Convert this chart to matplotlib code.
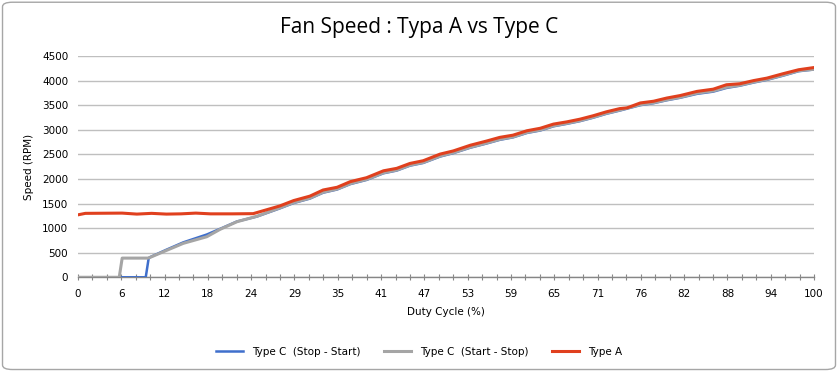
import matplotlib
matplotlib.use("Agg")
import matplotlib.pyplot as plt
from matplotlib.patches import FancyBboxPatch
import numpy as np

# ---- data (duty cycle %, RPM) ----
type_a_x = [0, 1, 6, 8, 10, 12, 14, 16, 18, 21, 23.8, 27.4, 29.3, 31.5, 33.3, 35.2, 37.0, 39.2,
            41.5, 43.3, 45.1, 46.9, 49.2, 51.0, 53.3, 55.5, 57.3, 59.1, 61.0, 62.8, 64.6, 66.4,
            68.2, 70.0, 71.8, 73.6, 74.6, 76.4, 78.2, 80.0, 81.8, 84.1, 86.3, 88.1, 89.9, 91.8,
            93.6, 95.8, 97.9, 100]
type_a_rpm = [1270, 1300, 1305, 1285, 1300, 1285, 1290, 1305, 1290, 1290, 1294, 1450, 1560, 1650,
              1775, 1830, 1945, 2025, 2165, 2215, 2315, 2370, 2505, 2570, 2685, 2770, 2845, 2890,
              2980, 3030, 3115, 3160, 3215, 3285, 3365, 3430, 3445, 3545, 3580, 3645, 3695, 3780,
              3825, 3915, 3935, 4000, 4050, 4140, 4220, 4265]

start_stop_x = [0, 5.6, 6.0, 9.5, 9.8, 12.0, 14.3, 17.5, 19.3, 21.6, 24.3, 27.4, 29.3, 31.5, 33.3,
                35.2, 37.0, 39.2, 41.5, 43.3, 45.1, 46.9, 49.2, 51.0, 53.3, 55.5, 57.3, 59.1, 61.0,
                62.8, 64.6, 66.4, 68.2, 70.0, 71.8, 73.6, 76.4, 78.2, 80.0, 81.8, 84.1, 86.3, 88.1,
                89.9, 91.8, 93.6, 95.8, 97.9, 100]
start_stop_rpm = [0, 0, 390, 390, 405, 545, 690, 825, 975, 1130, 1240, 1410, 1520, 1610, 1730, 1795,
                  1905, 1990, 2125, 2180, 2280, 2335, 2465, 2535, 2645, 2730, 2805, 2855, 2945, 2995,
                  3080, 3130, 3185, 3255, 3335, 3400, 3510, 3550, 3610, 3660, 3745, 3790, 3865, 3905,
                  3970, 4025, 4110, 4200, 4230]

stop_start_x = [0, 9.2, 9.6, 9.8, 12.0, 14.3, 17.5, 19.3, 21.6, 24.3, 27.4, 29.3, 31.5, 33.3, 35.2,
                37.0, 39.2, 41.5, 43.3, 45.1, 46.9, 49.2, 51.0, 53.3, 55.5, 57.3, 59.1, 61.0, 62.8,
                64.6, 66.4, 68.2, 70.0, 71.8, 73.6, 76.4, 78.2, 80.0, 81.8, 84.1, 86.3, 88.1, 89.9,
                91.8, 93.6, 95.8, 97.9, 100]
stop_start_rpm = [0, 0, 390, 410, 560, 710, 870, 985, 1135, 1235, 1400, 1510, 1600, 1720, 1785,
                  1895, 1980, 2115, 2170, 2270, 2325, 2455, 2525, 2635, 2720, 2795, 2845, 2935, 2985,
                  3070, 3120, 3175, 3245, 3325, 3390, 3500, 3540, 3600, 3650, 3730, 3775, 3850, 3895,
                  3960, 4015, 4100, 4190, 4225]

pwm_label_steps = list(range(0, 256, 15))
x_tick_labels = ['0', '6', '12', '18', '24', '29', '35', '41', '47', '53', '59', '65', '71',
                 '76', '82', '88', '94', '100']
y_ticks = list(range(0, 4501, 500))

series_names = ['Type C  (Stop - Start)', 'Type C  (Start - Stop)', 'Type A']
colors = ['#3F6FCC', '#A5A5A5', '#E0401E']

# ---- figure ----
fig = plt.figure(figsize=(8.38, 3.71), dpi=100)
fig.patch.set_facecolor('white')
border = FancyBboxPatch((0.003, 0.004), 0.994, 0.99, boxstyle="round,pad=0,rounding_size=0.012",
                        transform=fig.transFigure, facecolor='white', edgecolor='#A6A6A6',
                        linewidth=1.0, zorder=-10)
fig.patches.append(border)

ax = fig.add_axes([0.0931, 0.2526, 0.8783, 0.5965])
ax.set_facecolor('none')

l1, = ax.plot(stop_start_x, stop_start_rpm, color=colors[0], lw=1.8, zorder=3,
              solid_joinstyle='round')
l2, = ax.plot(start_stop_x, start_stop_rpm, color=colors[1], lw=2.2, zorder=4,
              solid_joinstyle='round')
l3, = ax.plot(type_a_x, type_a_rpm, color=colors[2], lw=2.2, zorder=5,
              solid_joinstyle='round')

ax.set_xlim(0, 100)
ax.set_ylim(0, 4500)
major_x = [p / 255 * 100 for p in pwm_label_steps]
ax.set_xticks(major_x)
ax.set_xticklabels(x_tick_labels)
ax.set_xticks([p / 255 * 100 for p in range(0, 256, 5)], minor=True)
ax.set_yticks(y_ticks)
ax.set_yticklabels([str(v) for v in y_ticks])

ax.grid(axis='y', color='#BFBFBF', lw=1.0, zorder=0)
for s in ['top', 'right', 'left']:
    ax.spines[s].set_visible(False)
ax.spines['bottom'].set_color('#868686')
ax.spines['bottom'].set_linewidth(1.0)
ax.tick_params(axis='x', which='both', direction='inout', color='#868686', length=5, width=0.8,
               labelsize=7.5, labelcolor='#000000', pad=6)
ax.tick_params(axis='y', length=0, labelsize=7.5, labelcolor='#000000', pad=7)

ax.set_xlabel('Duty Cycle (%)', fontsize=7.5, color='#000000', labelpad=6)
ax.set_ylabel('Speed (RPM)', fontsize=7.5, color='#000000', labelpad=6)

fig.text(0.5, 0.925, 'Fan Speed : Typa A vs Type C', ha='center', va='center',
         fontsize=15, family='Open Sans', color='#000000')

leg = fig.legend([l1, l2, l3], series_names, loc='center', bbox_to_anchor=(0.5, 0.052),
                 ncol=3, frameon=False, fontsize=7.5, handlelength=2.6, columnspacing=2.2,
                 handletextpad=0.9)

fig.savefig('out.png', dpi=100, facecolor='white')
